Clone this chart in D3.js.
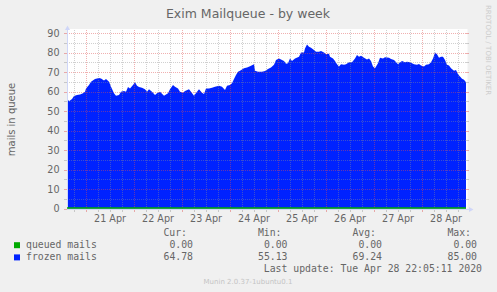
<!DOCTYPE html>
<html>
<head>
<meta charset="utf-8">
<script src="https://cdn.jsdelivr.net/npm/d3@7"></script>
<style>
  body { margin: 0; background: #f0f0f0; }
  svg { display: block; font-family: 'DejaVu Sans', sans-serif; }
</style>
</head>
<body>
<svg></svg>
<script>
// ---- data ----
// graph spans 20 Apr 14:45 -> 28 Apr 22:15 (UTC used so ticks are stable)
const startTime = new Date(Date.UTC(2020, 3, 20, 14, 45));
const endTime = new Date(Date.UTC(2020, 3, 28, 22, 15));

// hours since startTime
const hours = [0, 1, 2.5, 3.5, 5, 6.5, 8, 9, 9.5, 11, 12, 14, 16, 17, 18.5, 19.5, 21, 22, 23.5, 24.5,
  26, 27, 28.5, 29.5, 30.5, 31.5, 33, 34, 35, 36, 37.5, 39, 40, 41, 42.5, 44, 45, 46.5, 48.5, 49.5,
  50.5, 51.5, 53, 54, 55.5, 56.5, 58, 59, 61, 62, 63.5, 65, 66, 67.5, 68.5, 69.5, 71, 72.5, 74, 76,
  77.5, 79, 80, 81.5, 82.5, 83.5, 84.5, 85.5, 86.5, 88.5, 90, 91.5, 93.5, 94, 95.5, 97.5, 99, 100.5, 102, 103.5,
  104.5, 106, 107, 108.5, 109.5, 110.5, 111.5, 112.5, 114, 116, 117, 118.5, 119, 120, 121, 122, 123.5, 124.5, 126, 127,
  128.5, 129.5, 131, 131.5, 133, 134, 135, 136, 137, 138.5, 139.5, 141, 142.5, 144, 145, 146, 147, 148.5, 150, 151,
  152, 153, 154, 155.5, 156.5, 158, 159, 161, 162, 163.5, 164, 165.5, 166, 167.5, 169, 170, 171.5, 173.5, 175, 176,
  177, 178.5, 179.5, 181, 182, 183, 184, 185, 186, 187, 188, 189, 190, 191, 192, 193.5, 194.5, 195.5, 196.5, 197.5,
  198.5, 199.5];

const frozenMails = [56.6, 55.1, 56.2, 57.8, 58.3, 58.6, 59.2, 60, 61.7, 63.4, 65.1, 66.5, 67.1, 66.8, 65.8, 66.5, 65.1, 62.5, 59.2, 57.9,
  58.3, 60, 60.3, 60, 62.4, 61.7, 63.4, 64.8, 63, 62.4, 62, 61.3, 60, 61.2, 60, 58.3, 59.2, 60, 57.9, 58.5,
  59.2, 61.3, 63.4, 62.5, 61.7, 60, 59.5, 60.3, 61.2, 60, 57.9, 60, 61.3, 59.5, 58.8, 61.7, 61.7, 62, 62.5, 63,
  62.5, 60.9, 63, 63.4, 64.3, 66.5, 68.6, 70.3, 70.7, 72.1, 72.4, 73.1, 74.1, 70.7, 70.3, 70.2, 70.6, 71.7, 72.4, 73.8,
  76.3, 77.1, 76.5, 75.8, 74.4, 74.6, 77.1, 75.8, 77.1, 78, 80.2, 80.2, 82.2, 84.2, 83.1, 82.6, 81.4, 80.5, 80.5, 80.9,
  80.2, 79.2, 79.5, 78, 77.1, 75.8, 74.1, 72.9, 74.1, 73.8, 74.1, 75.1, 75.1, 77.1, 78.8, 78, 78.5, 77.5, 76.6, 77.1,
  75.8, 72.9, 72.1, 74.6, 77.5, 77.1, 77.7, 77.5, 76.8, 76.3, 75.8, 74.1, 74.6, 75.8, 75.1, 75.4, 75.1, 74.1, 73.8, 74.2,
  73.4, 72.9, 73.8, 74.1, 75.1, 77.1, 80.2, 79.2, 77.5, 78, 78, 76.3, 73.8, 73.4, 72.1, 70.7, 71.2, 69, 67.8, 66.6,
  66.1, 64.8];

// queued mails sat at zero the whole week
const queuedHours = [0, 199.5];
const queuedMails = [0, 0];

const dayLabels = ['21 Apr', '22 Apr', '23 Apr', '24 Apr', '25 Apr', '26 Apr', '27 Apr', '28 Apr'];

const legendNames = ['queued mails', 'frozen mails'];
const statHeaders = ['Cur:', 'Min:', 'Avg:', 'Max:'];
const queuedStats = ['0.00', '0.00', '0.00', '0.00'];
const frozenStats = ['64.78', '55.13', '69.24', '85.00'];
const lastUpdate = 'Last update: Tue Apr 28 22:05:11 2020';

// ---- layout / colours ----
const size = {w: 497, h: 292};
const plot = {l: 67, r: 466, t: 33.3, b: 208.5};
const colors = {queued: '#00aa00', frozen: '#0022ff', text: '#666',
  axis: '#cfd6f8', grid: 'rgba(143,143,143,0.42)', mgrid: 'rgba(222,79,79,0.45)'};

const svg = d3.select('svg').attr('width', size.w).attr('height', size.h);
svg.append('rect').attr('width', size.w).attr('height', size.h).attr('fill', '#f0f0f0');

const x = d3.scaleUtc().domain([startTime, endTime]).range([plot.l, plot.r]);
const y = d3.scaleLinear().domain([0, 90]).range([plot.b, plot.t]);
const hourToDate = h => new Date(startTime.getTime() + h * 3600e3);
const snap = v => Math.round(v) + 0.5;

// canvas
svg.append('rect')
  .attr('x', plot.l).attr('y', 29)
  .attr('width', plot.r - plot.l + 1.5).attr('height', plot.b - 29)
  .attr('fill', '#fff');

// frozen mails area
const frozenData = hours.map((h, i) => ({t: hourToDate(h), v: frozenMails[i]}));
const area = d3.area()
  .x(d => x(d.t))
  .y0(y(0))
  .y1(d => y(d.v));
svg.append('path').datum(frozenData)
  .attr('d', area)
  .attr('fill', colors.frozen);

// grid on top of data, like rrdtool
const gridG = svg.append('g').attr('shape-rendering', 'crispEdges');
const yGrid = d3.range(5, 91, 5);
yGrid.forEach(v => {
  const yy = snap(y(v));
  const c = v % 10 === 0 ? colors.mgrid : colors.grid;
  gridG.append('line').attr('x1', plot.l).attr('x2', plot.r)
    .attr('y1', yy).attr('y2', yy)
    .attr('stroke', c).attr('stroke-dasharray', '1,1');
  gridG.append('line').attr('x1', plot.l - 3).attr('x2', plot.l)
    .attr('y1', yy).attr('y2', yy).attr('stroke', c);
  gridG.append('line').attr('x1', plot.r).attr('x2', plot.r + 3)
    .attr('y1', yy).attr('y2', yy).attr('stroke', c);
});
// 0 tick on left
gridG.append('line').attr('x1', plot.l - 3).attr('x2', plot.l)
  .attr('y1', snap(y(0))).attr('y2', snap(y(0))).attr('stroke', colors.mgrid);

const sixHours = d3.utcHour.every(6).range(startTime, endTime);
sixHours.forEach(t => {
  const xx = snap(x(t));
  const c = t.getUTCHours() === 0 ? colors.mgrid : colors.grid;
  gridG.append('line').attr('x1', xx).attr('x2', xx)
    .attr('y1', 30).attr('y2', plot.b)
    .attr('stroke', c).attr('stroke-dasharray', '1,1');
  gridG.append('line').attr('x1', xx).attr('x2', xx)
    .attr('y1', plot.b).attr('y2', plot.b + 3).attr('stroke', c);
});

// axes with arrows
svg.append('line').attr('x1', plot.l + 0.5).attr('x2', plot.l + 0.5)
  .attr('y1', plot.b + 1).attr('y2', 29).attr('stroke', colors.axis);
svg.append('path').attr('d', `M${plot.l - 2},${30}L${plot.l + 3},${30}L${plot.l + 0.5},${25.5}Z`)
  .attr('fill', colors.axis);
svg.append('line').attr('x1', plot.l).attr('x2', plot.r + 5)
  .attr('y1', snap(y(0))).attr('y2', snap(y(0))).attr('stroke', colors.axis);
svg.append('path').attr('d', `M${plot.r + 3},${snap(y(0)) - 2.5}L${plot.r + 3},${snap(y(0)) + 2.5}L${plot.r + 7.5},${snap(y(0))}Z`)
  .attr('fill', colors.axis);

// queued mails line (all zero)
const queuedData = queuedHours.map((h, i) => ({t: hourToDate(h), v: queuedMails[i]}));
svg.append('path').datum(queuedData)
  .attr('d', d3.line().x(d => x(d.t)).y(d => y(d.v) - 0.5))
  .attr('fill', 'none')
  .attr('stroke', colors.queued)
  .attr('stroke-width', 1.5);

// y tick labels
svg.append('g').selectAll('text')
  .data(y.ticks(9))
  .join('text')
  .attr('x', 59.5)
  .attr('y', d => y(d) + 3.5)
  .attr('text-anchor', 'end')
  .attr('font-size', '9.6px')
  .attr('fill', colors.text)
  .text(d => d);

// day labels centred on noon
const days = d3.utcDay.range(startTime, endTime);
svg.append('g').selectAll('text')
  .data(days)
  .join('text')
  .attr('x', d => x(d3.utcHour.offset(d, 12)) + 0.5)
  .attr('y', 221.5)
  .attr('text-anchor', 'middle')
  .attr('font-size', '9.6px')
  .attr('fill', colors.text)
  .text((d, i) => dayLabels[i]);

// titles
svg.append('text').attr('x', 248).attr('y', 18.3)
  .attr('text-anchor', 'middle').attr('font-size', '12.5px')
  .attr('fill', colors.text).text('Exim Mailqueue - by week');
svg.append('text').attr('transform', 'translate(15,119.5) rotate(-90)')
  .attr('text-anchor', 'middle').attr('font-size', '10px')
  .attr('fill', colors.text).text('mails in queue');
svg.append('text').attr('transform', 'translate(485.5,5) rotate(90)')
  .attr('text-anchor', 'start').attr('font-size', '7px')
  .attr('fill', '#ccc').text('RRDTOOL / TOBI OETIKER');

// legend
const legendG = svg.append('g')
  .attr('font-family', "'DejaVu Sans Mono', monospace")
  .attr('font-size', '9.8px')
  .attr('fill', colors.text);
const statRight = [193, 287.5, 382, 477];
statHeaders.forEach((h, i) => {
  legendG.append('text').attr('x', statRight[i] - 6).attr('y', 235.6)
    .attr('text-anchor', 'end').text(h);
});
const rows = [
  {name: legendNames[0], color: colors.queued, stats: queuedStats},
  {name: legendNames[1], color: colors.frozen, stats: frozenStats}
];
rows.forEach((r, k) => {
  const base = 247.8 + k * 12.2;
  legendG.append('rect').attr('x', 14).attr('y', base - 5.6)
    .attr('width', 6).attr('height', 6).attr('fill', r.color);
  legendG.append('text').attr('x', 26).attr('y', base).text(r.name);
  r.stats.forEach((s, i) => {
    legendG.append('text').attr('x', statRight[i]).attr('y', base)
      .attr('text-anchor', 'end').text(s);
  });
});
legendG.append('text').attr('x', 482).attr('y', 271.7)
  .attr('text-anchor', 'end').text(lastUpdate);

svg.append('text').attr('x', 248).attr('y', 284)
  .attr('text-anchor', 'middle').attr('font-size', '7px')
  .attr('fill', '#c4c4c4').text('Munin 2.0.37-1ubuntu0.1');
</script>
</body>
</html>
